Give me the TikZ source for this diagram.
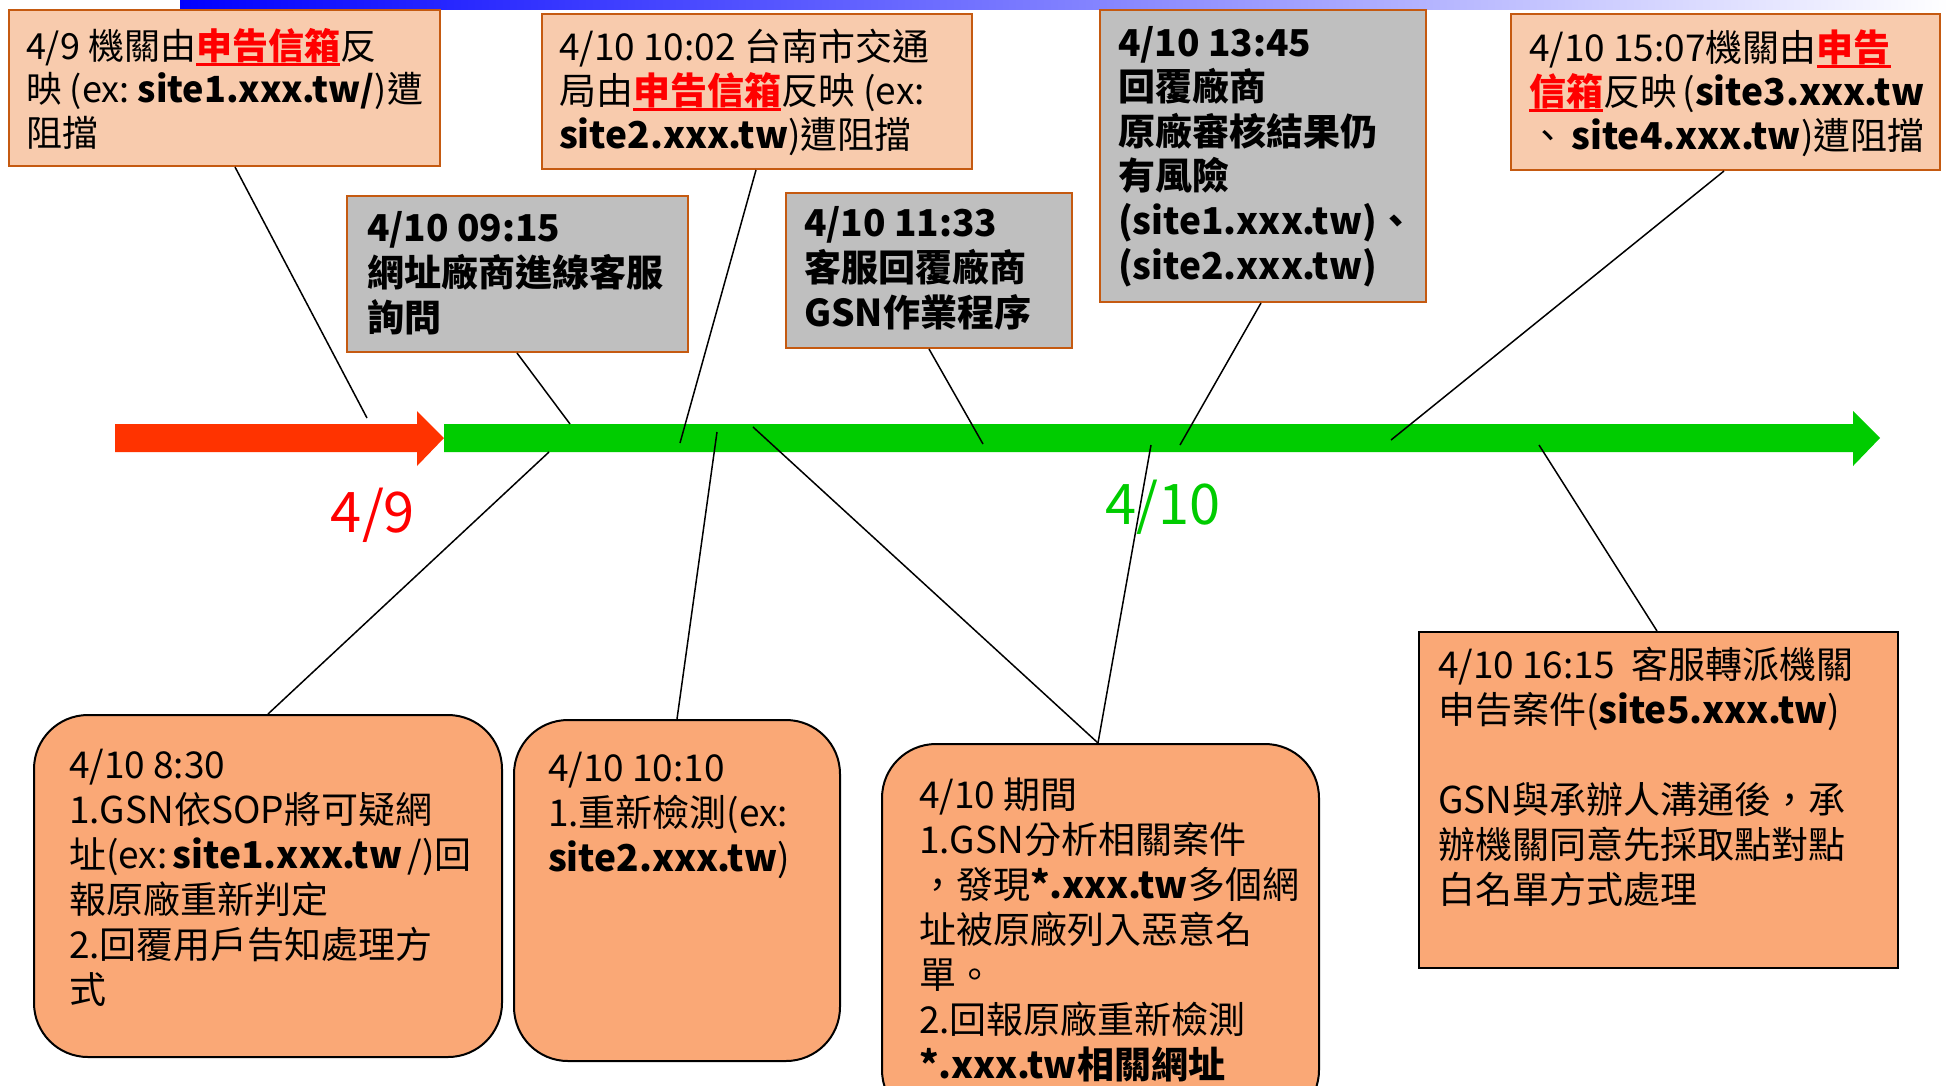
\documentclass[tikz,border=0pt]{standalone}
\usepackage{fontspec}
\setmainfont{Noto Sans CJK TC}

\definecolor{peach}{RGB}{248,203,173}
\definecolor{salmon}{RGB}{250,168,118}
\definecolor{boxgray}{RGB}{191,191,191}
\definecolor{rim}{RGB}{197,90,17}
\definecolor{arrred}{RGB}{255,51,0}
\definecolor{arrgreen}{RGB}{0,204,0}

% red, bold, underlined words
\newcommand{\mailred}[1]{{\color{red}\bfseries\setbox0\hbox{#1}\rlap{\rule[-7pt]{\wd0}{3pt}}\box0}}
% height, width, first baseline, text
\newcommand{\evtext}[4]{\parbox[t][#1pt][t]{#2pt}{\rule{0pt}{#3pt}#4}}

\tikzset{
	tag/.style={draw=rim, line width=2pt, fill=peach, anchor=north west,
		inner ysep=0pt, inner xsep=18pt, font=\fontsize{37}{44}\selectfont},
	graytag/.style={tag, fill=boxgray, font=\fontsize{37}{45}\selectfont\bfseries},
	bubble/.style={draw=black, line width=2pt, fill=salmon, rounded corners=54pt,
		anchor=north west, inner ysep=0pt, inner xsep=35pt, font=\fontsize{37}{45}\selectfont},
	note/.style={bubble, sharp corners, inner xsep=19pt},
	link/.style={line width=1.5pt},
}

\begin{document}
\begin{tikzpicture}[x=1pt,y=-1pt]
	%\draw[help lines] (0,0) grid (1949,1085);

	\useasboundingbox (0,0) rectangle (1949,1085);
	\clip (0,0) rectangle (1949,1085);
	\fill[white] (0,0) rectangle (1949,1085);
	\shade[left color=blue, right color=white] (180,0) rectangle (1949,9);

	\path
	coordinate (pin1) at (367,418)
	coordinate (pin2) at (570,424)
	coordinate (pin3) at (680,443)
	coordinate (pin4) at (983,444)
	coordinate (pin5) at (1180,445)
	coordinate (pin6) at (1391,440)
	coordinate (pin7) at (549,452)
	coordinate (pin8) at (717,432)
	coordinate (pin9) at (753,427)
	coordinate (pin10) at (1151,445)
	coordinate (pin11) at (1539,445)
	;

	% time line
	\fill[arrred] (115,424) -- (417,424) -- (417,411) -- (444,438)
		-- (417,466) -- (417,452) -- (115,452) -- cycle;
	\fill[arrgreen] (444,424) -- (1853,424) -- (1853,411) -- (1880,438)
		-- (1853,466) -- (1853,452) -- (444,452) -- cycle;

	\node[text=red, font=\fontsize{56}{60}\selectfont, anchor=base] (day1) at (373,532) {4/9};
	\node[text=arrgreen, font=\fontsize{56}{60}\selectfont, anchor=base] (day2) at (1163,524) {4/10};

	% above the line
	\node[tag, inner xsep=17pt, font=\fontsize{36}{43.5}\selectfont] (ev1) at (8,9)
	{\evtext{156}{397}{49}{4/9~機關由\mailred{申告信箱}反\\映~(ex:~\textbf{site1.xxx.tw/})遭\\阻擋}};

	\node[tag, inner xsep=17pt] (ev2) at (541,13)
	{\evtext{155}{396}{46}{4/10~10:02~台南市交通\\局由\mailred{申告信箱}反映~(ex:\\\textbf{site2.xxx.tw})遭阻擋}};

	\node[graytag, inner xsep=20pt] (ev3) at (346,195)
	{\evtext{156}{301}{45}{4/10~09:15\\網址廠商進線客服\\詢問}};

	\node[graytag] (ev4) at (785,192)
	{\evtext{155}{250}{43}{4/10~11:33\\客服回覆廠商\\GSN作業程序}};

	\node[graytag, font=\fontsize{37}{44.6}\selectfont\bfseries] (ev5) at (1099,9)
	{\evtext{292}{290}{46}{4/10~13:45\\回覆廠商\\原廠審核結果仍\\有風險\\(site1.xxx.tw)、\\(site2.xxx.tw)}};

	\node[tag] (ev6) at (1510,13)
	{\evtext{156}{393}{47}{4/10~15:07機關由\mailred{申告}\\\mailred{信箱}反映~(\textbf{site3.xxx.tw}\\、~\textbf{site4.xxx.tw})遭阻擋}};

	% below the line
	\node[bubble] (ev7) at (33,714)
	{\evtext{342}{398}{63}{4/10~8:30\\1.GSN依SOP將可疑網\\址(ex:~\textbf{site1.xxx.tw}~/)回\\報原廠重新判定\\2.回覆用戶告知處理方\\式}};

	\node[bubble, inner xsep=34pt] (ev8) at (513,719)
	{\evtext{341}{258}{61}{4/10~10:10\\1.重新檢測(ex:\\\textbf{site2.xxx.tw})}};

	\node[bubble, inner xsep=37pt] (ev9) at (881,743)
	{\evtext{380}{363}{64}{4/10~期間\\1.GSN分析相關案件\\，發現\textbf{*.xxx.tw}多個網\\址被原廠列入惡意名\\單。\\2.回報原廠重新檢測\\\textbf{*.xxx.tw相關網址}}};

	\node[note] (ev10) at (1418,631)
	{\evtext{336}{441}{46}{4/10~16:15~~客服轉派機關\\申告案件(\textbf{site5.xxx.tw})\\\mbox{}\\GSN與承辦人溝通後，承\\辦機關同意先採取點對點\\白名單方式處理}};

	% connectors
	\draw[link] ([xshift=227pt]ev1.south west) -- (pin1);
	\draw[link] ([xshift=215pt]ev2.south west) -- (pin3);
	\draw[link] ([xshift=171pt]ev3.south west) -- (pin2);
	\draw[link] ([xshift=144pt]ev4.south west) -- (pin4);
	\draw[link] ([xshift=162pt]ev5.south west) -- (pin5);
	\draw[link] ([xshift=214pt]ev6.south west) -- (pin6);
	\draw[link] ([xshift=235pt]ev7.north west) -- (pin7);
	\draw[link] ([xshift=164pt]ev8.north west) -- (pin8);
	\draw[link] ([xshift=217pt]ev9.north west) -- (pin9);
	\draw[link] ([xshift=217pt]ev9.north west) -- (pin10);
	\draw[link] ([xshift=239pt]ev10.north west) -- (pin11);

\end{tikzpicture}
\end{document}
